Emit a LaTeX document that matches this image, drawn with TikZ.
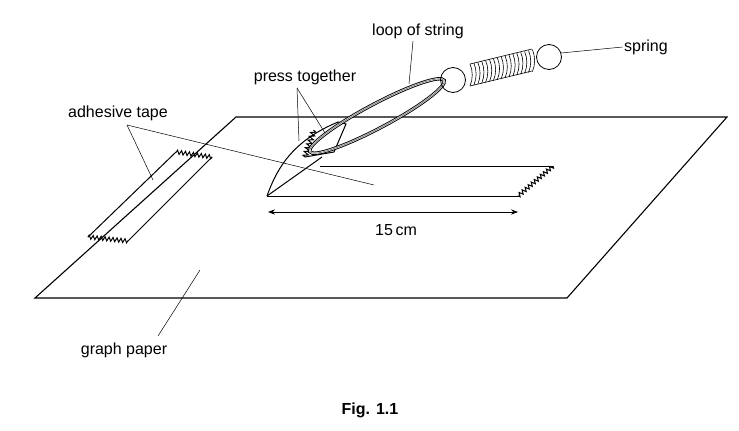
\documentclass[tikz,border=0pt]{standalone}
\usepackage{fontspec}
\setmainfont{Liberation Sans}
\usetikzlibrary{decorations.pathmorphing,arrows.meta}
\begin{document}
\begin{tikzpicture}[x=1pt,y=-1pt,line width=1pt,
  lbl/.style={font=\fontsize{16}{18}\selectfont,inner sep=1pt},
  lead/.style={line width=0.5pt},
  zz/.style={decorate,decoration={zigzag,segment length=4pt,amplitude=2pt}}]
\useasboundingbox (0,0) rectangle (739,431);
% paper
\draw[line width=1.1pt] (35,298) -- (236,117) -- (727,117) -- (567,298) -- cycle;
% tape
\draw (176,152) -- (88,237);
\draw[zz] (88,237) -- (128,241);
\draw (128,241) -- (212,157);
\draw[zz] (212,157) -- (176,152);
% strip
\draw (320,166) -- (553,166);
\draw[zz] (553,166) -- (518,196);
\draw (518,196) -- (267,196);
% flap
\draw[fill=white] (267,196) .. controls (278,165) and (295,140) .. (338,122) -- (346,124) -- (334,152) -- (305,157);
\draw[zz,decoration={amplitude=2.5pt,segment length=4pt}] (305,157) -- (314,130);
\draw (267,196) -- (322,157);
% loop of string
\begin{scope}[shift={(377,116)},rotate=28]
\draw[line width=3.4pt] (0,0) ellipse (76 and 12);
\draw[line width=1.6pt,white] (0,0) ellipse (76 and 12);
\draw[line width=0.8pt,gray] (0,0) ellipse (76 and 12);
\end{scope}
% rings and spring
\node (r1) [circle,draw,line width=0.8pt,minimum size=25pt,inner sep=0] at (453,80) {};
\node (r2) [circle,draw,line width=0.8pt,minimum size=25pt,inner sep=0] at (549,57) {};
\foreach \i in {0,...,16}{
  \pgfmathsetmacro\xx{470+\i*3.9}
  \pgfmathsetmacro\yy{75-\i*0.9}
  \draw[line width=0.6pt] (\xx,\yy-11) .. controls (\xx+3,\yy-4) and (\xx+3,\yy+4) .. (\xx,\yy+11);
}
\draw[line width=0.6pt] (470,64) -- (532,49);
\draw[line width=0.6pt] (470,86) -- (532,71);
% labels
\node[lbl] (ls) at (418,31) {loop of string};
\draw[lead] (413,41) -- (409,84);
\node[lbl] (sp) at (646,47) {spring};
\draw[lead] (561,53) -- (sp.west);
\node[lbl] (pt) at (305,77) {press together};
\draw[lead] (297,88) -- (299,141);
\draw[lead] (297,88) -- (325,133);
\node[lbl] (at) at (118,113) {adhesive tape};
\draw[lead] (127,125) -- (153,180);
\draw[lead] (127,125) -- (374,185);
\coordinate (d1) at (268,212);
\coordinate (d2) at (518,212);
\draw[line width=0.7pt,{Stealth[length=7pt]}-{Stealth[length=7pt]}] (d1) -- (d2);
\node[lbl] (cm) at (396,230) {15\,cm};
\node[lbl] (gp) at (124,350) {graph paper};
\draw[lead] (158,336) -- (200,270);
\node[lbl,font=\fontsize{16}{18}\selectfont\bfseries] (fig) at (370,410) {Fig. 1.1};
\end{tikzpicture}
\end{document}
